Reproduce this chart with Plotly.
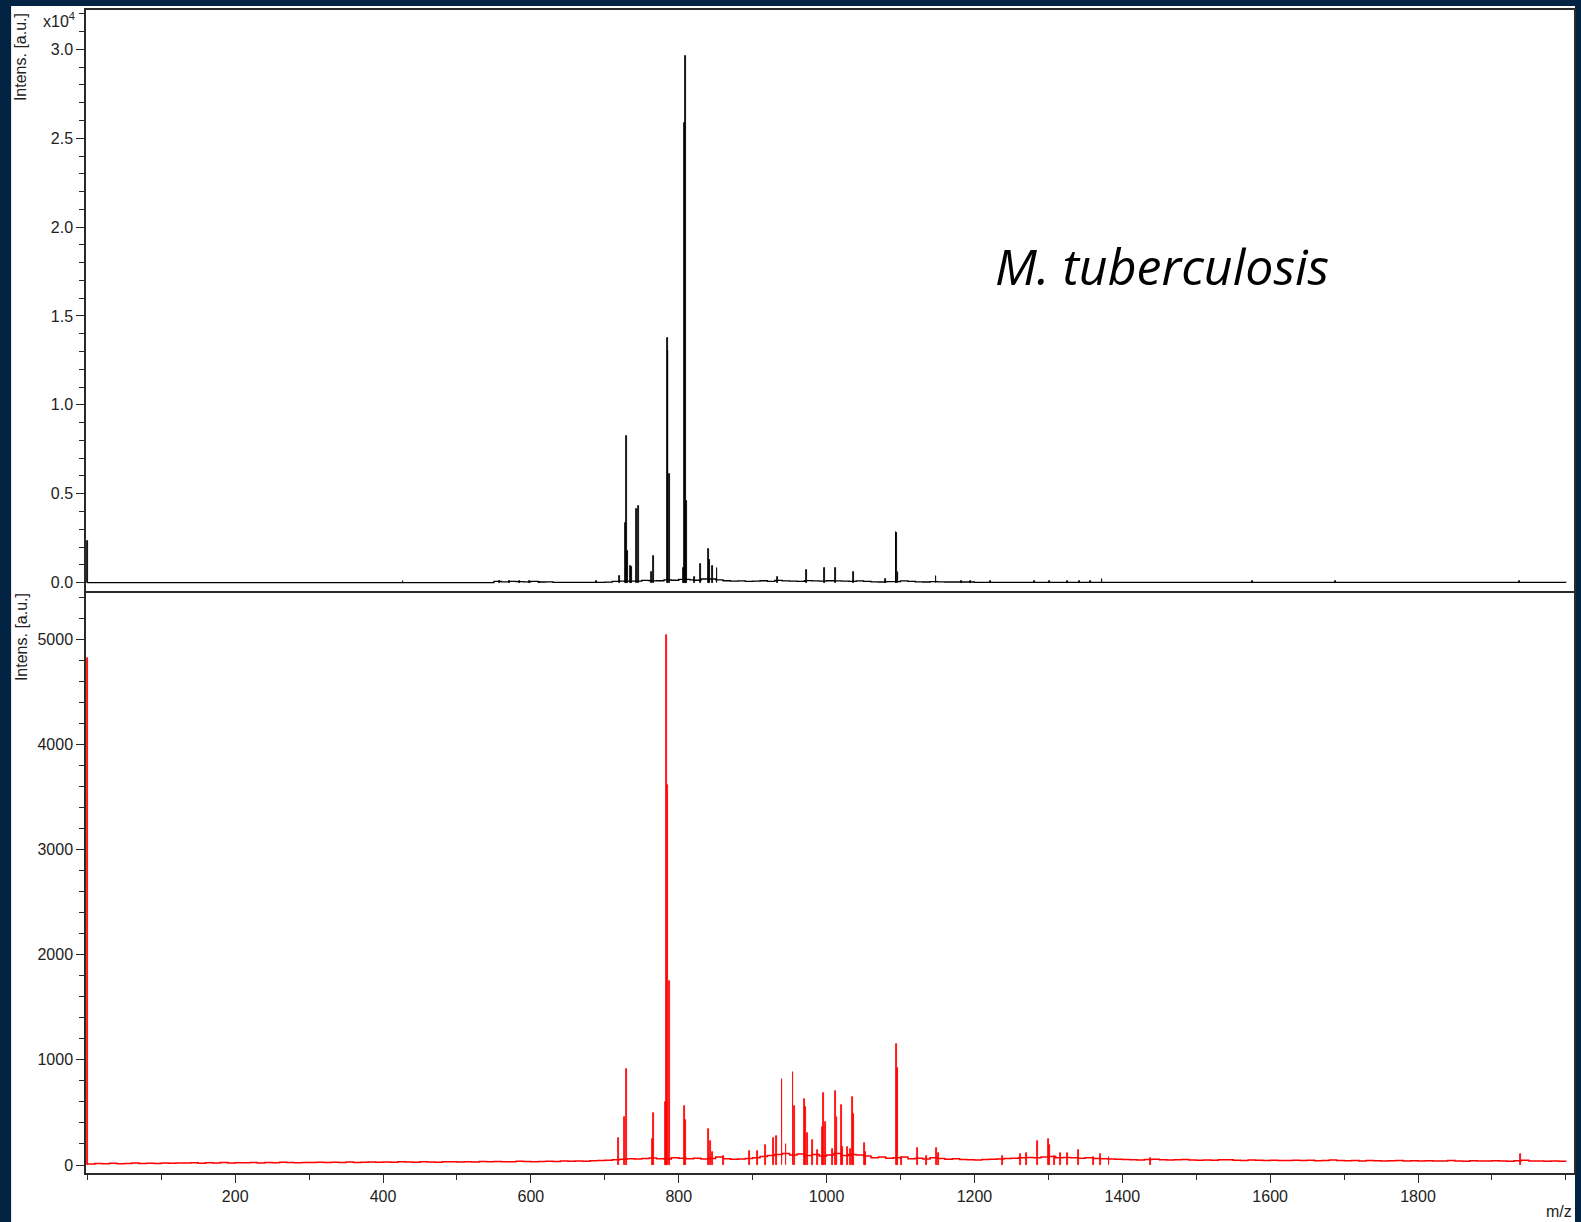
import plotly.graph_objects as go
from plotly.subplots import make_subplots

# ---- M. tuberculosis reference spectrum (top, black) ----
black_peak_mz = [0.5, 427, 557, 571, 585, 598, 612, 689, 719.4, 727.4, 729.3, 730.6,
                 734.7, 736.5, 742.8, 745.0, 763.5, 765.3, 784.2, 785.5, 786.9, 806.5,
                 807.6, 809.0, 810.4, 821.6, 829.7, 840.0, 841.9, 845.5, 851.8, 934,
                 972.5, 997.6, 1012, 1036.5, 1080, 1093.8, 1095.0, 1096.5, 1148, 1182,
                 1195, 1222, 1281, 1302, 1326, 1342, 1357, 1372.5, 1576, 1688, 1937]
black_peak_int = [2330, 80, 100, 90, 80, 60, 50, 60, 370, 3360, 8260, 1800,
                  950, 880, 4120, 4320, 600, 1510, 13780, 13050, 6100, 800,
                  25850, 29650, 4600, 300, 1040, 1870, 1270, 950, 800, 300,
                  680, 800, 800, 600, 200, 2860, 2800, 600, 370, 80,
                  100, 80, 60, 70, 60, 80, 70, 200, 80, 80, 100]

black_base_mz = [0, 400, 550, 560, 570, 580, 590, 600, 610, 620, 630, 700, 710, 720,
                 750, 760, 770, 780, 790, 800, 815, 820, 830, 850, 860, 870, 880, 890,
                 900, 910, 920, 930, 940, 950, 960, 970, 980, 990, 1000, 1010, 1020,
                 1030, 1040, 1050, 1060, 1070, 1080, 1100, 1110, 1120, 1130, 1140,
                 1150, 1160, 1200, 2000]
black_base_int = [0, 0, 60, 40, 70, 50, 40, 60, 30, 40, 10, 20, 60, 80,
                  120, 90, 100, 150, 130, 180, 150, 130, 200, 150, 100, 80, 90, 60,
                  80, 100, 70, 120, 90, 80, 70, 110, 90, 80, 100, 90, 80,
                  70, 90, 60, 40, 30, 50, 90, 60, 40, 30, 50,
                  40, 30, 10, 0]

# ---- sample spectrum (bottom, red) ----
red_peak_mz = [0.5, 718.8, 727, 729.3, 764, 766.2, 782, 783.8, 784.7, 786.9, 807.2,
               809.5, 840.5, 842.8, 845.5, 860, 896, 906.8, 917.7, 928.6, 932.7,
               939.6, 945, 954.6, 957, 970.3, 972, 974, 980.6, 988, 994, 996, 998,
               1008, 1011.7, 1014, 1019.8, 1022, 1028, 1032, 1034.7, 1036.8, 1051.4,
               1053, 1094.2, 1095.6, 1101, 1122.5, 1134.7, 1149, 1151, 1238, 1261.7,
               1269.8, 1284.7, 1300.4, 1302, 1308, 1316, 1326, 1341, 1361, 1371,
               1382, 1438, 1939]
red_peak_int = [4820, 259, 460, 910, 248, 490, 602, 5038, 3613, 1753, 560,
                425, 344, 230, 124, 89, 134, 134, 192, 259, 278,
                814, 200, 881, 565, 625, 555, 304, 238, 143, 364, 682, 412,
                148, 707, 460, 570, 174, 174, 150, 650, 485, 212,
                125, 1148, 926, 70, 158, 90, 158, 110, 90, 103,
                110, 228, 244, 190, 85, 110, 110, 143, 80, 100,
                75, 63, 105]

red_base_mz = list(range(0, 2001, 10))
red_base_int = [10, 14, 12, 16, 13, 15, 18, 14, 17, 15, 19,
                16, 20, 18, 22, 17, 21, 19, 23, 20, 22,
                21, 24, 20, 25, 22, 26, 23, 21, 25, 24,
                26, 23, 27, 25, 28, 24, 27, 29, 26, 28,
                27, 30, 28, 26, 31, 29, 27, 32, 30, 28,
                31, 29, 33, 30, 34, 32, 30, 35, 33, 31,
                34, 36, 33, 37, 35, 38, 36, 40, 42, 45,
                50, 55, 60, 58, 62, 66, 60, 58, 70, 65,
                60, 64, 58, 62, 75, 60, 55, 58, 62, 70,
                80, 90, 100, 110, 95, 105, 90, 100, 85, 95,
                110, 90, 100, 95, 85, 70, 75, 65, 70, 75,
                60, 65, 58, 70, 62, 55, 60, 52, 50, 48,
                52, 55, 58, 62, 65, 70, 72, 68, 75, 80,
                70, 72, 68, 65, 70, 62, 60, 58, 55, 52,
                50, 48, 52, 55, 50, 47, 49, 52, 48, 46,
                47, 45, 49, 50, 46, 44, 48, 45, 43, 46,
                44, 42, 46, 43, 45, 41, 44, 47, 42, 40,
                42, 39, 43, 41, 38, 40, 42, 39, 41, 38,
                40, 37, 39, 42, 38, 36, 40, 37, 39, 41,
                38, 36, 40, 45, 39, 37, 35, 38, 36, 34]

top_tick_vals = [0, 5000, 10000, 15000, 20000, 25000, 30000]
top_tick_text = ["0.0", "0.5", "1.0", "1.5", "2.0", "2.5", "3.0"]
bot_tick_vals = [0, 1000, 2000, 3000, 4000, 5000]
bot_tick_text = ["0", "1000", "2000", "3000", "4000", "5000"]
x_tick_vals = [200, 400, 600, 800, 1000, 1200, 1400, 1600, 1800]
x_tick_text = ["200", "400", "600", "800", "1000", "1200", "1400", "1600", "1800"]

NAVY = "#022341"
FRAME = "#2a2a2a"
TXT = "#222222"
FONT = "Arial, Liberation Sans, sans-serif"
FS = 16

fig = make_subplots(rows=2, cols=1, shared_xaxes=False, vertical_spacing=0,
                    row_heights=[0.4996, 0.5004])

fig.add_trace(go.Scatter(x=black_base_mz, y=black_base_int, mode="lines",
                         line=dict(color="black", width=1.3, shape="hv"),
                         hoverinfo="skip"), row=1, col=1)
fig.add_trace(go.Bar(x=black_peak_mz, y=black_peak_int, width=1.2,
                     marker=dict(color="black", line=dict(color="black", width=0.8))),
              row=1, col=1)

fig.add_trace(go.Scatter(x=red_base_mz, y=red_base_int, mode="lines",
                         line=dict(color="#ff0000", width=1.5, shape="hv"),
                         hoverinfo="skip"), row=2, col=1)
fig.add_trace(go.Bar(x=red_peak_mz, y=red_peak_int, width=1.2,
                     marker=dict(color="#ff0000", line=dict(color="#ff0000", width=0.8))),
              row=2, col=1)

axis_common = dict(showline=True, linecolor=FRAME, linewidth=1.5,
                   showgrid=False, zeroline=False,
                   tickfont=dict(family=FONT, size=FS, color=TXT))

fig.update_xaxes(range=[-1.8, 2011], **axis_common)
# top panel: frame on top and bottom (the bottom edge is the panel divider)
fig.update_xaxes(showticklabels=False, ticks="", mirror=True, row=1, col=1)
# bottom panel: only its own lower axis line, the divider is already drawn
fig.update_xaxes(mirror=False, ticks="outside", ticklen=8, tickwidth=1.3,
                 tickcolor=FRAME, tickvals=x_tick_vals, ticktext=x_tick_text,
                 minor=dict(ticks="outside", ticklen=5, tickwidth=1.3,
                            tickcolor=FRAME, dtick=100, tick0=0),
                 row=2, col=1)

fig.update_yaxes(mirror=True, **axis_common)
fig.update_yaxes(range=[-478, 32220], ticks="outside", ticklen=8, tickwidth=1.3,
                 tickcolor=FRAME, tickvals=top_tick_vals, ticktext=top_tick_text,
                 minor=dict(ticks="outside", ticklen=5, tickwidth=1.3,
                            tickcolor=FRAME, dtick=1000, tick0=0),
                 row=1, col=1)
fig.update_yaxes(range=[-76, 5459], ticks="outside", ticklen=8, tickwidth=1.3,
                 tickcolor=FRAME, tickvals=bot_tick_vals, ticktext=bot_tick_text,
                 minor=dict(ticks="outside", ticklen=5, tickwidth=1.3,
                            tickcolor=FRAME, dtick=200, tick0=0),
                 row=2, col=1)

W, H = 1581, 1222
ML, MR, MT, MB = 86, 5, 10, 49
PW, PH = W - ML - MR, H - MT - MB


def px(x):
    return (x - ML) / PW


def py(y):
    return (H - MB - y) / PH


fig.add_shape(type="rect", xref="paper", yref="paper", layer="below",
              x0=px(11), x1=px(1577), y0=py(1240), y1=py(6),
              fillcolor="white", line=dict(width=0))

ann_font = dict(family=FONT, size=FS, color=TXT)
fig.add_annotation(text="Intens. [a.u.]", xref="paper", yref="paper",
                   x=px(21), y=py(11), xanchor="center", yanchor="top",
                   textangle=-90, showarrow=False, font=ann_font)
fig.add_annotation(text="Intens. [a.u.]", xref="paper", yref="paper",
                   x=px(21), y=py(591), xanchor="center", yanchor="top",
                   textangle=-90, showarrow=False, font=ann_font)
fig.add_annotation(text="x10<sup>4</sup>", xref="paper", yref="paper",
                   x=px(77), y=py(20), xanchor="right", yanchor="middle",
                   showarrow=False, font=ann_font)
fig.add_annotation(text="m/z", xref="paper", yref="paper",
                   x=px(1576), y=py(1211), xanchor="right", yanchor="middle",
                   showarrow=False, font=ann_font)
fig.add_annotation(text="<i>M. tuberculosis</i>", xref="paper", yref="paper",
                   x=px(1163), y=py(266), xanchor="center", yanchor="middle",
                   showarrow=False,
                   font=dict(family="Open Sans, Noto Sans, sans-serif", size=50,
                             color="black"))

fig.update_layout(width=W, height=H, autosize=False,
                  margin=dict(l=ML, r=MR, t=MT, b=MB),
                  paper_bgcolor=NAVY, plot_bgcolor="white",
                  showlegend=False, barmode="overlay", bargap=0)

fig.write_html("out.html", include_plotlyjs=True, full_html=True,
               config=dict(displayModeBar=False))
